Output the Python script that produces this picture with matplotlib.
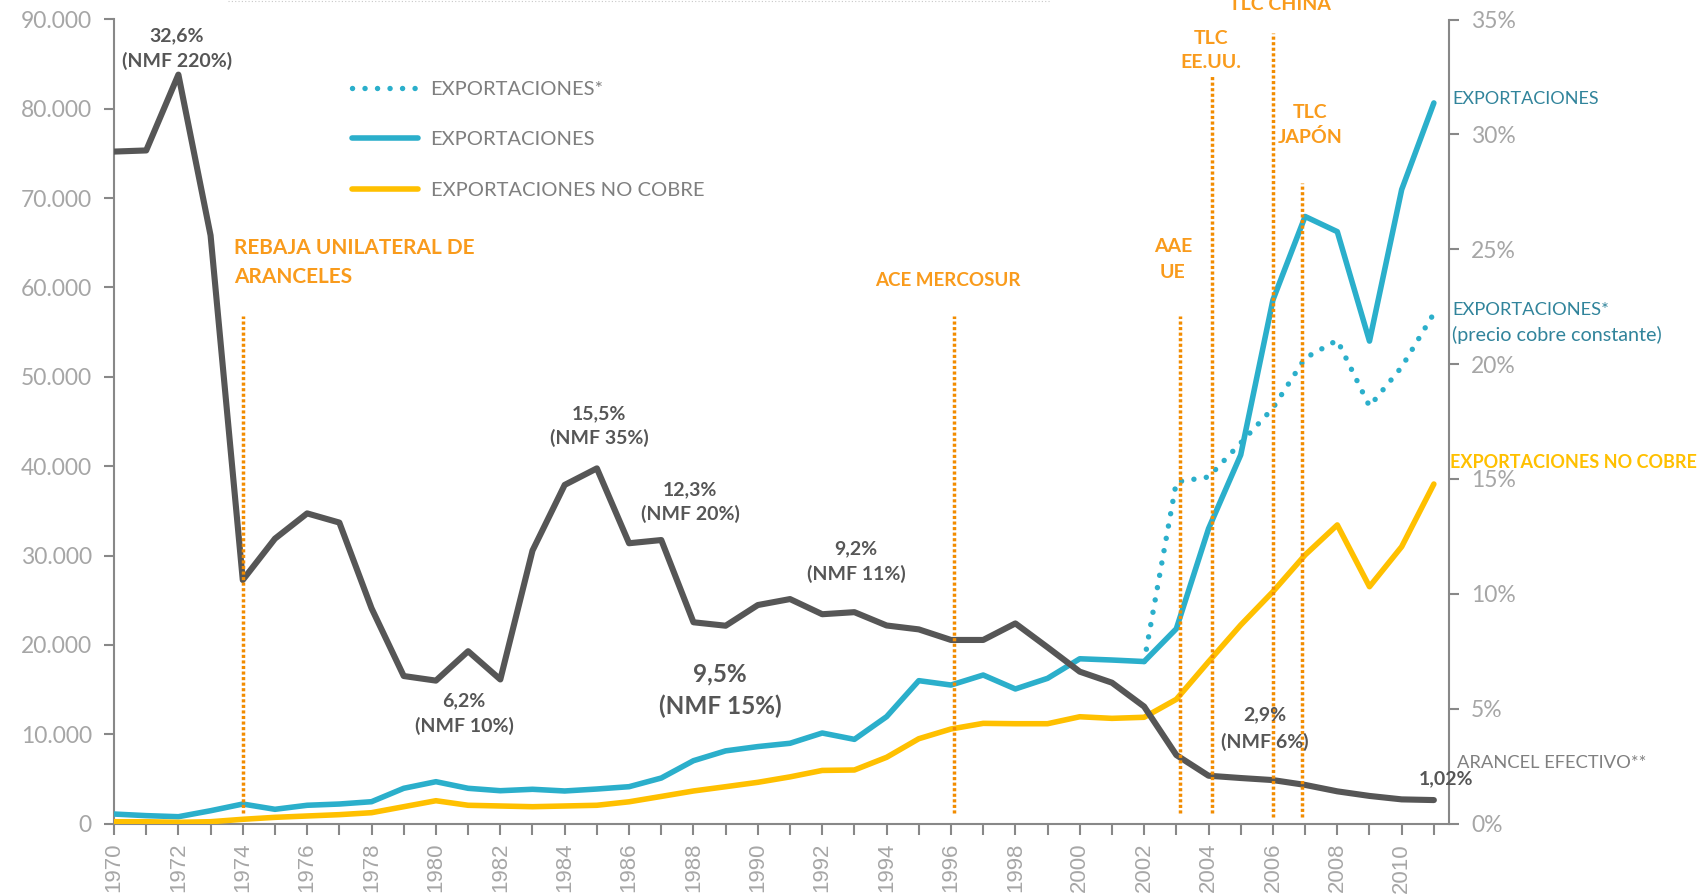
import matplotlib
matplotlib.use('Agg')
import matplotlib.pyplot as plt
from matplotlib.ticker import FuncFormatter, MultipleLocator
from matplotlib.lines import Line2D

# ---------------- data ----------------
years = list(range(1970, 2012))

# Arancel efectivo (%), right axis
arancel = [29.25, 29.3, 32.6, 25.6, 10.6, 12.4, 13.5, 13.1, 9.37, 6.42,
           6.22, 7.5, 6.27, 11.88, 14.74, 15.46, 12.2, 12.34, 8.76, 8.61,
           9.51, 9.77, 9.11, 9.2, 8.62, 8.45, 7.99, 7.99, 8.71, 7.67,
           6.61, 6.13, 5.09, 2.98, 2.08, 1.98, 1.89, 1.68, 1.40, 1.20,
           1.05, 1.02]

# Exportaciones (millones US$), left axis
exportaciones = [1060, 880, 760, 1430, 2180, 1590, 2040, 2180, 2440, 3940,
                 4680, 3940, 3670, 3830, 3640, 3860, 4120, 5090, 7030, 8130,
                 8610, 8980, 10130, 9420, 11960, 15990, 15500, 16620, 15060, 16250,
                 18440, 18300, 18130, 21800, 33000, 41260, 58600, 67950, 66250, 54000,
                 70960, 80660]

# Exportaciones a precio de cobre constante
exp_const_years = list(range(2002, 2012))
exp_const = [18130, 38230, 38790, 42600, 46500, 52100, 54100, 46700, 51100, 57100]

# Exportaciones no cobre
no_cobre = [200, 200, 130, 200, 470, 690, 840, 990, 1210, 1880,
             2550, 2040, 1960, 1880, 1960, 2040, 2430, 3030, 3640, 4120,
             4610, 5220, 5940, 5990, 7410, 9490, 10580, 11210, 11170, 11170,
             11950, 11770, 11890, 13900, 18110, 22220, 25950, 30060, 33420, 26510,
             30990, 38000]

# Acuerdos comerciales (año, tope y base de la línea en % del eje derecho)
event_x = [1974.0, 1996.1, 2003.1, 2004.1, 2006.0, 2006.9]
event_top = [22.1, 22.1, 22.1, 32.6, 34.4, 27.9]
event_bottom = [0.45, 0.45, 0.45, 0.45, 0.3, 0.3]

legend_labels = ['EXPORTACIONES*', 'EXPORTACIONES', 'EXPORTACIONES NO COBRE']

# ---------------- style ----------------
C_DARK = '#565656'
C_BLUE = '#2BAFCB'
C_YEL = '#FFC000'
C_ORL = '#F28C00'
C_ORT = '#F99B1C'
C_TEAL = '#31849B'
C_TICK = '#A6A6A6'
C_SPINE = '#888888'
FONT = 'Lato'

W, H = 1699, 896
fig = plt.figure(figsize=(W / 100, H / 100), dpi=100)
fig.patch.set_facecolor('white')
ax = fig.add_axes([114 / W, 1 - 823.5 / H, (1449 - 114) / W, (823.5 - 19.5) / H])
ax2 = ax.twinx()

# exports on left axis
ax.plot(exp_const_years, exp_const, color=C_BLUE, lw=3.9,
        linestyle=(0, (0.01, 2.3)), dash_capstyle='round', solid_capstyle='round', zorder=3)
ax.plot(years, exportaciones, color=C_BLUE, lw=4.0, solid_capstyle='round', zorder=4)
ax.plot(years, no_cobre, color=C_YEL, lw=4.0, solid_capstyle='round', zorder=4)

# tariff on right axis
ax2.plot(years, arancel, color=C_DARK, lw=4.4, solid_capstyle='round', zorder=3)
ax2.vlines(event_x, event_bottom, event_top, colors=C_ORL, lw=2.5,
           linestyles=[(0, (0.9, 0.7))], zorder=5)

ax.set_xlim(1970, 2011.47)
ax.set_ylim(0, 90000)
ax2.set_ylim(0, 35)

ax.yaxis.set_major_locator(MultipleLocator(10000))
ax.yaxis.set_major_formatter(FuncFormatter(lambda v, p: f"{int(v):,}".replace(',', '.')))
ax2.yaxis.set_major_locator(MultipleLocator(5))
ax2.yaxis.set_major_formatter(FuncFormatter(lambda v, p: f"{int(v)}%"))

ax.set_xticks(years, minor=True)
ax.set_xticks(list(range(1970, 2012, 2)))
ax.set_xticklabels([str(y) for y in range(1970, 2012, 2)], rotation=90,
                   fontsize=16, color=C_TICK, family='Liberation Sans')
ax.tick_params(axis='x', which='both', direction='out', length=8, width=1.5,
               color=C_SPINE, pad=6)
ax.tick_params(axis='y', direction='out', length=7, width=1.5, color=C_SPINE,
               labelsize=16.5, labelcolor=C_TICK, pad=9)
ax2.tick_params(axis='y', direction='out', length=7, width=1.5, color=C_SPINE,
                labelsize=16.5, labelcolor=C_TICK, pad=9)
for lab in ax.get_yticklabels() + ax2.get_yticklabels():
    lab.set_family(FONT)

for a in (ax, ax2):
    a.spines['top'].set_visible(False)
    for s in ('left', 'right', 'bottom'):
        a.spines[s].set_color(C_SPINE)
        a.spines[s].set_linewidth(1.5)
ax.spines['right'].set_visible(False)
ax2.spines['left'].set_visible(False)
ax2.spines['bottom'].set_visible(False)

# legend
handles = [Line2D([], [], color=C_BLUE, lw=3.9, linestyle=(0, (0.01, 2.3)),
                  dash_capstyle='round'),
           Line2D([], [], color=C_BLUE, lw=4.0, solid_capstyle='round'),
           Line2D([], [], color=C_YEL, lw=4.0, solid_capstyle='round')]
leg = ax2.legend(handles, legend_labels, loc='upper left',
                 bbox_to_anchor=(352 / W, 1 - 81 / H), bbox_transform=fig.transFigure,
                 frameon=False, handlelength=3.3, handletextpad=0.6, labelspacing=1.65,
                 borderpad=0, borderaxespad=0,
                 prop={'family': FONT, 'size': 14.5})
for t in leg.get_texts():
    t.set_color('#7F7F7F')


def ftext(px, py, s, **kw):
    fig.text(px / W, 1 - py / H, s, **kw)


# annotation labels (dark)
ann = dict(family=FONT, fontweight='bold', color=C_DARK, ha='center', va='center', fontsize=14)
ftext(177, 36, '32,6%', **ann)
ftext(177, 61, '(NMF 220%)', **ann)
ftext(464, 701, '6,2%', **ann)
ftext(464, 726, '(NMF 10%)', **ann)
ftext(599, 414, '15,5%', **ann)
ftext(599, 438, '(NMF 35%)', **ann)
ftext(690, 490, '12,3%', **ann)
ftext(690, 514, '(NMF 20%)', **ann)
ftext(856, 549, '9,2%', **ann)
ftext(856, 574, '(NMF 11%)', **ann)
ftext(1265, 715, '2,9%', **ann)
ftext(1265, 742, '(NMF 6%)', **ann)
ftext(1446, 779, '1,02%', **ann)
big = dict(ann, fontsize=17.5)
ftext(720, 674, '9,5%', **big)
ftext(720, 706, '(NMF 15%)', **big)

# agreement labels (orange)
orn = dict(family=FONT, fontweight='bold', color=C_ORT, va='center', fontsize=14)
ftext(234, 248, 'REBAJA UNILATERAL DE', ha='left', **dict(orn, fontsize=15))
ftext(234, 277, 'ARANCELES', ha='left', **dict(orn, fontsize=15))
ftext(948, 281, 'ACE MERCOSUR', ha='center', **dict(orn, fontsize=13.5))
ftext(1173, 247, 'AAE', ha='center', **orn)
ftext(1173, 272, 'UE', ha='center', **orn)
ftext(1211, 39, 'TLC', ha='center', **orn)
ftext(1211, 63, 'EE.UU.', ha='center', **orn)
ftext(1280, 4, 'TLC CHINA', ha='center', **orn)
ftext(1310, 112, 'TLC', ha='center', **orn)
ftext(1310, 137, 'JAPÓN', ha='center', **orn)

# series labels on the right
ftext(1452, 99, 'EXPORTACIONES', ha='left', va='center', family=FONT, fontsize=13, color=C_TEAL)
ftext(1452, 310, 'EXPORTACIONES*', ha='left', va='center', family=FONT, fontsize=13.2, color=C_TEAL)
ftext(1452, 335, '(precio cobre constante)', ha='left', va='center', family=FONT, fontsize=14.2,
      color=C_TEAL)
ftext(1450, 462, 'EXPORTACIONES NO COBRE', ha='left', va='center', family=FONT, fontsize=13,
      fontweight='bold', color=C_YEL)
ftext(1457, 763, 'ARANCEL EFECTIVO**', ha='left', va='center', family=FONT, fontsize=13.2,
      color='#808080')

# faint dotted rule at the very top
fig.add_artist(Line2D([228 / W, 1050 / W], [1 - 1 / H, 1 - 1 / H], transform=fig.transFigure,
                      color='#C8C8C8', lw=0.8, linestyle=(0, (1, 2))))

fig.savefig('out.png', dpi=100, facecolor='white')
